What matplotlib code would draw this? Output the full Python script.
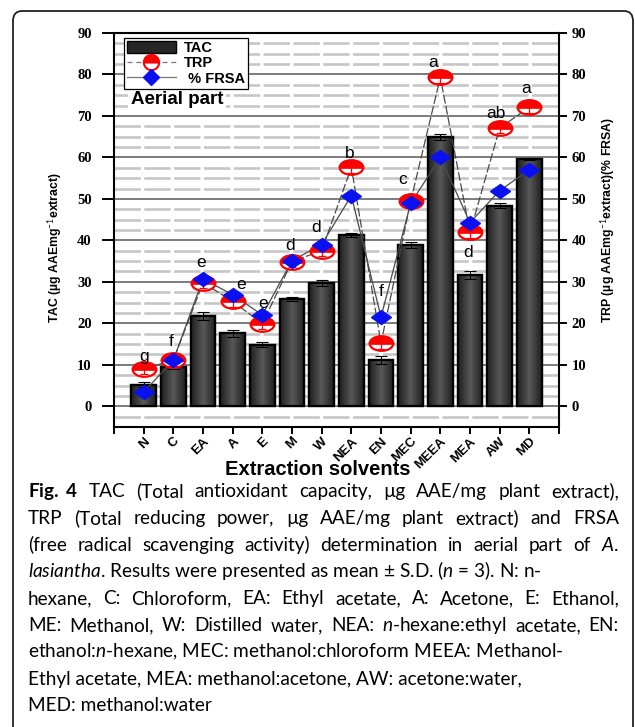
import numpy as np
import matplotlib
matplotlib.use('Agg')
import matplotlib.pyplot as plt
from matplotlib.colors import LinearSegmentedColormap
from matplotlib.markers import MarkerStyle
from matplotlib.transforms import Affine2D
from matplotlib.patches import Patch, FancyBboxPatch
from matplotlib.lines import Line2D

plt.rcParams['mathtext.fontset'] = 'custom'
plt.rcParams['mathtext.rm'] = 'Lato'
plt.rcParams['mathtext.it'] = 'Lato:italic'
plt.rcParams['mathtext.bf'] = 'Lato:bold'

# data
solvents = ['N', 'C', 'EA', 'A', 'E', 'M', 'W', 'NEA', 'EN', 'MEC', 'MEEA', 'MEA', 'AW', 'MD']
tac = [5.2, 9.5, 21.8, 17.6, 14.8, 25.8, 29.8, 41.3, 11.2, 38.9, 65.0, 31.6, 48.4, 59.6]
tac_sd = [0.6, 0.5, 1.0, 0.9, 0.6, 0.5, 0.7, 0.4, 0.9, 0.7, 0.7, 0.9, 0.5, 0.3]
trp = [9.0, 11.1, 29.8, 25.3, 19.9, 34.9, 37.5, 57.6, 15.2, 49.4, 79.3, 41.9, 67.1, 72.1]
frsa = [3.4, 11.1, 30.7, 26.9, 22.0, 35.1, 39.0, 50.8, 21.5, 48.9, 60.0, 44.3, 52.0, 57.0]
letters = ['g', 'f', 'e', 'e', 'e', 'd', 'd', 'b', 'f', 'c', 'a', 'd', 'ab', 'a']
# where each letter sits relative to its TRP point (x in categories, y in units)
letter_dx = [0.0, -0.07, -0.07, 0.27, 0.03, -0.07, -0.2, -0.07, 0.0, -0.27, -0.24, -0.07, -0.13, -0.1]
letter_dy = [3.1, 4.4, 4.8, 4.1, 4.8, 3.8, 5.6, 3.4, 12.4, 5.3, 3.6, -4.9, 3.4, 4.4]

caption = [
    r'$\mathbf{Fig.\;4}$ TAC (Total antioxidant capacity, µg AAE/mg plant extract),',
    'TRP (Total reducing power, µg AAE/mg plant extract) and FRSA',
    r'(free radical scavenging activity) determination in aerial part of $\mathit{A.}$',
    r'$\mathit{lasiantha}$. Results were presented as mean ± S.D. ($\mathit{n}$ = 3). N: n-',
    'hexane, C: Chloroform, EA: Ethyl acetate, A: Acetone, E: Ethanol,',
    r'ME: Methanol, W: Distilled water, NEA: $\mathit{n}$-hexane:ethyl acetate, EN:',
    r'ethanol:$\mathit{n}$-hexane, MEC: methanol:chloroform MEEA: Methanol-',
    'Ethyl acetate, MEA: methanol:acetone, AW: acetone:water,',
    'MED: methanol:water',
]
justified = [True, True, True, False, True, True, False, False, False]

W, H = 635, 727
fig = plt.figure(figsize=(W / 100, H / 100), dpi=100)
ax = fig.add_axes([114 / W, 1 - 427 / H, 445 / W, 394 / H])

x = np.arange(len(solvents))
bars = ax.bar(x, tac, width=0.84, color='#2b2b2b', edgecolor='black', linewidth=1.6, zorder=2)

# dark gradient inside the bars
cmap = LinearSegmentedColormap.from_list('bar', ['#575757', '#1f1f1f'])
grad = np.abs(np.linspace(-1, 1, 64)).reshape(1, -1)
for b in bars:
    x0, y0 = b.get_x(), b.get_y()
    im = ax.imshow(grad, extent=(x0, x0 + b.get_width(), y0, y0 + b.get_height()),
                   aspect='auto', cmap=cmap, interpolation='bilinear', zorder=2.1)
    im.set_clip_path(b)
ax.bar(x, tac, width=0.84, color='none', edgecolor='black', linewidth=1.6, zorder=2.2)
ax.errorbar(x, tac, yerr=tac_sd, fmt='none', ecolor='black', elinewidth=0.8,
            capsize=4, capthick=0.8, zorder=3)

circ = MarkerStyle('o', fillstyle='top', transform=Affine2D().scale(1, 0.62))
diam = MarkerStyle('D', transform=Affine2D().scale(1, 0.72))

ax.plot(x, trp, color='#4a4a4a', lw=0.9, ls=(0, (7, 2)), zorder=4)
ax.plot(x, frsa, color='#4a4a4a', lw=0.9, zorder=4)
ax.errorbar(x, trp, yerr=[[1.3] * len(x), [0] * len(x)], fmt='none', ecolor='red',
            elinewidth=0.9, capsize=3, capthick=0.9, zorder=5.1)
ax.plot(x, trp, ls='none', marker=circ, markersize=17, markerfacecolor='red',
        markerfacecoloralt='none', markeredgecolor='red', markeredgewidth=1.6, zorder=5.2)
ax.plot(x, trp, ls='none', marker=MarkerStyle('o', transform=Affine2D().scale(1, 0.62)),
        markersize=17, markerfacecolor='white', markeredgecolor='none', zorder=5)
ax.plot(x, frsa, ls='none', marker=diam, markersize=10.5, markerfacecolor='#0a10f0',
        markeredgecolor='#0a10f0', zorder=6)

for i, lab in enumerate(letters):
    ax.text(x[i] + letter_dx[i], trp[i] + letter_dy[i], lab, ha='center', va='center',
            fontsize=12.5, family='Liberation Sans', zorder=7)

ax.set_xlim(-1, 14)
ax.set_ylim(-5, 90)
ax.set_xticks(np.arange(-1, 15))
ax.set_xticklabels([''] + solvents + [''], rotation=45, ha='right', rotation_mode='anchor',
                   fontsize=9.5, fontweight='bold', family='Liberation Sans')
ax.set_yticks(np.arange(0, 91, 10))
ax.set_yticks(np.arange(-5, 90.1, 2.5), minor=True)
ax.set_yticklabels([str(v) for v in range(0, 91, 10)], fontsize=10.5, fontweight='bold',
                   family='Liberation Serif')
ax.tick_params(axis='y', which='major', direction='out', length=9, width=1.4, pad=7)
ax.tick_params(axis='x', which='major', direction='out', length=5, width=1.4, pad=1)
ax.tick_params(which='minor', length=0)
ax.set_axisbelow(True)
ax.grid(which='minor', axis='y', color='#c6c6c6', lw=1.9, ls=(0, (10, 1.3)))
ax.grid(which='major', axis='y', color='#7c7c7c', lw=1.4)
for s in ax.spines.values():
    s.set_linewidth(1.5)

ax.set_ylabel(r'TAC (µg AAEmg$^{-1}$extract)', fontsize=8.8, fontweight='bold',
              family='Liberation Sans')
ax.yaxis.set_label_coords(-0.111, 0.454)
ax.set_xlabel('Extraction solvents', fontsize=14.5, fontweight='bold', family='Liberation Sans')
ax.xaxis.set_label_coords(0.458, -0.084)

ax2 = ax.twinx()
ax2.set_ylim(-5, 90)
ax2.set_yticks(np.arange(0, 91, 10))
ax2.set_yticklabels([str(v) for v in range(0, 91, 10)], fontsize=10.5, fontweight='bold',
                    family='Liberation Serif')
ax2.tick_params(axis='y', direction='out', length=6, width=1.4, pad=3)
ax2.set_ylabel(r'TRP (µg AAEmg$^{-1}$extract)(% FRSA)', fontsize=8.8, fontweight='bold',
               family='Liberation Sans', rotation=90)
ax2.yaxis.set_label_coords(1.088, 0.525)
for s in ax2.spines.values():
    s.set_visible(False)

handles = [
    Patch(facecolor='#262626', edgecolor='black'),
    Line2D([], [], color='#777777', lw=0.9, ls=(0, (4, 3)),
           marker=MarkerStyle('o', fillstyle='top'), markersize=11, markerfacecolor='red',
           markerfacecoloralt='white', markeredgecolor='red', markeredgewidth=1.5),
    Line2D([], [], color='#777777', lw=0.9, marker='D', markersize=8,
           markerfacecolor='#0a10f0', markeredgecolor='#0a10f0'),
]
leg = ax.legend(handles, ['TAC', 'TRP', ' % FRSA'], loc='upper left',
                bbox_to_anchor=(0.022, 0.988), borderaxespad=0, fancybox=False,
                framealpha=1, edgecolor='black', handlelength=3.4, handleheight=0.9,
                labelspacing=0.1, borderpad=0.2, handletextpad=0.5,
                prop={'family': 'Liberation Sans', 'weight': 'bold', 'size': 10.5})
leg.get_frame().set_linewidth(0.9)
leg.set_zorder(10)

ax.text(0.038, 0.83, 'Aerial part', transform=ax.transAxes, fontsize=13.5, fontweight='bold',
        family='Liberation Sans', va='center', ha='left', zorder=8,
        bbox=dict(facecolor='white', edgecolor='none', pad=2))

# rounded frame around the figure
fig.patches.append(FancyBboxPatch((13 / W, -0.05), 620 / W, (727 - 11) / H + 0.05,
                                  boxstyle='round,pad=0,rounding_size=0.014',
                                  transform=fig.transFigure, fill=False,
                                  edgecolor='#222222', lw=1.3))

# caption: pick a size so the longest justified line just fits, then justify
fig.canvas.draw()
r = fig.canvas.get_renderer()
left, right = 28, 619
probe = [fig.text(0, 0, line, fontsize=10, family='Lato') for line in caption]
need = max(t.get_window_extent(r).width for t, j in zip(probe, justified) if j)
for t in probe:
    t.remove()
size = 10 * (right - left) * 0.96 / need

for i, line in enumerate(caption):
    yb = 1 - (497 + 26.8 * i) / H
    if not justified[i]:
        fig.text(left / W, yb, line, fontsize=size, family='Lato', va='baseline')
        continue
    words = line.split(' ')
    texts = [fig.text(0, yb, w, fontsize=size, family='Lato', va='baseline') for w in words]
    widths = [t.get_window_extent(r).width for t in texts]
    gap = (right - left - sum(widths)) / (len(words) - 1)
    xp = left
    for t, wd in zip(texts, widths):
        t.set_x(xp / W)
        xp += wd + gap

fig.savefig('out.png', dpi=100)
